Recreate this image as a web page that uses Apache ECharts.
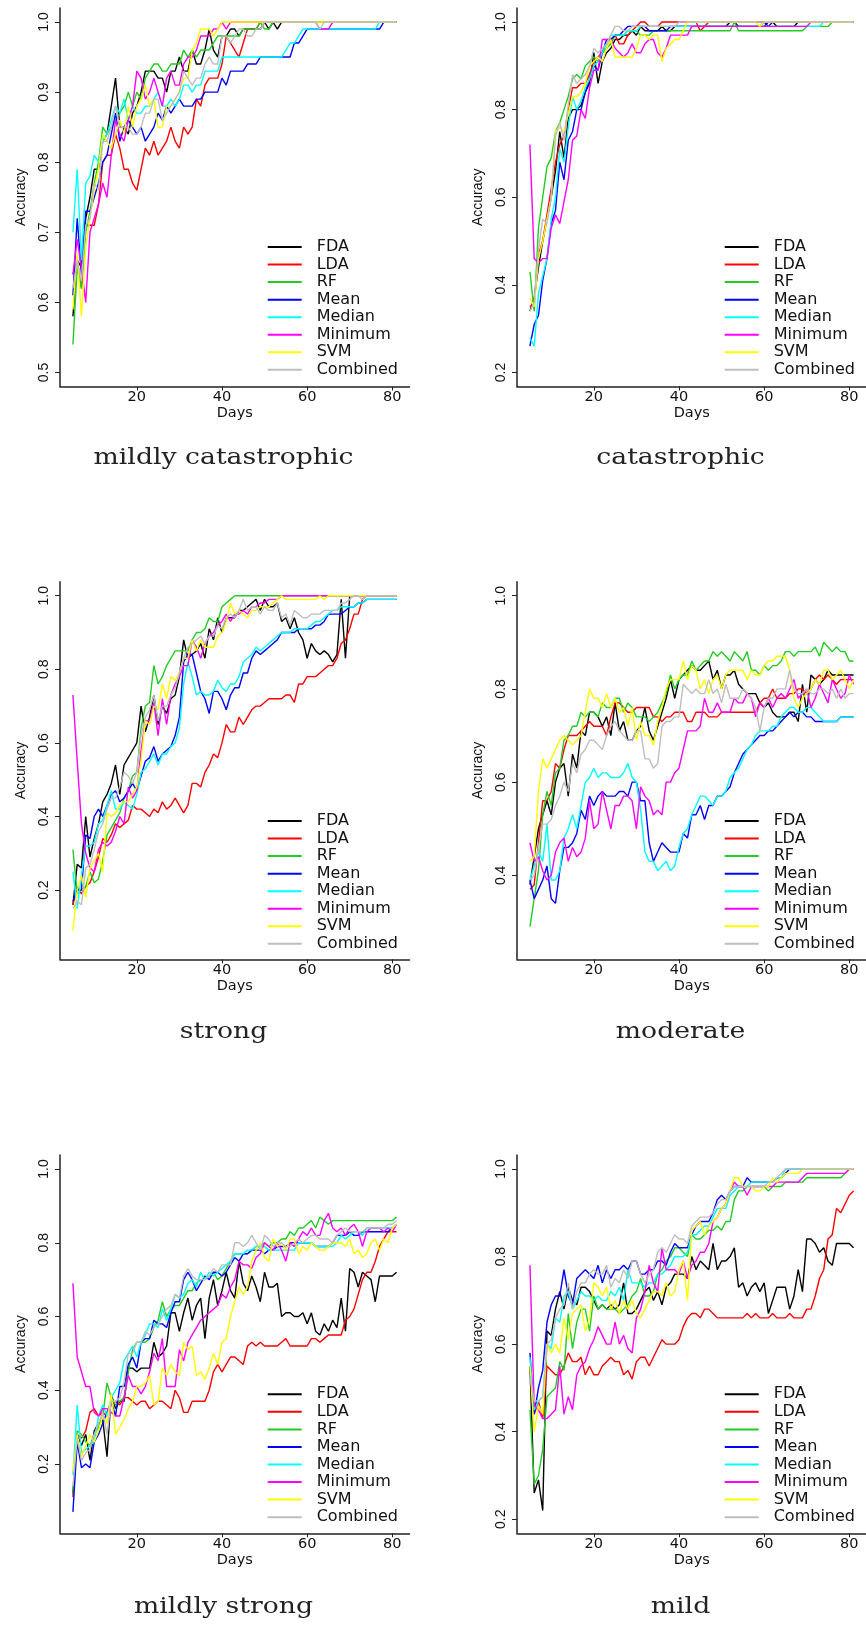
<!DOCTYPE html>
<html>
<head>
<meta charset="utf-8">
<script src="https://cdn.jsdelivr.net/npm/echarts@6/dist/echarts.min.js"></script>
<style>
  html, body { margin: 0; padding: 0; background: #ffffff; }
  #chart { width: 866px; height: 1625px; }
</style>
</head>
<body>
<div id="chart"></div>
<script>
// Days of observation (x values shared by every panel)
const days = [5,6,7,8,9,10,11,12,13,14,15,16,17,18,19,20,21,22,23,24,25,26,27,28,29,30,
  31,32,33,34,35,36,37,38,39,40,41,42,43,44,45,46,47,48,49,50,51,52,53,54,55,56,57,58,59,60,
  61,62,63,64,65,66,67,68,69,70,71,72,73,74,75,76,77,78,79,80,81];

const methods = ['FDA', 'LDA', 'RF', 'Mean', 'Median', 'Minimum', 'SVM', 'Combined'];
const panelTitles = ['mildly catastrophic', 'catastrophic', 'strong', 'moderate', 'mildly strong', 'mild'];

// Tick values
const xTicks = [20, 40, 60, 80];
const yTicksMildlyCatastrophic = [0.5, 0.6, 0.7, 0.8, 0.9, 1.0];
const yTicksCatastrophic = [0.2, 0.4, 0.6, 0.8, 1.0];
const yTicksStrong = [0.2, 0.4, 0.6, 0.8, 1.0];
const yTicksModerate = [0.4, 0.6, 0.8, 1.0];
const yTicksMildlyStrong = [0.2, 0.4, 0.6, 0.8, 1.0];
const yTicksMild = [0.2, 0.4, 0.6, 0.8, 1.0];

// ---- mildly catastrophic ----
const mcFDA = [0.58,0.66,0.65,0.72,0.75,0.79,0.79,0.83,0.84,0.88,
  0.92,0.85,0.85,0.84,0.87,0.88,0.90,0.93,0.93,0.93,
  0.92,0.92,0.90,0.93,0.93,0.95,0.93,0.93,0.96,0.94,
  0.94,0.96,0.99,0.96,0.95,0.98,0.98,0.99,0.99,0.98,
  0.99,0.99,0.99,0.99,0.99,1.00,0.99,1.00,0.99,1.00,
  1.00,1.00,1.00,1.00,1.00,1.00,1.00,1.00,1.00,1.00,
  1.00,1.00,1.00,1.00,1.00,1.00,1.00,1.00,1.00,1.00,
  1.00,1.00,1.00,1.00,1.00,1.00,1.00];
const mcLDA = [0.64,0.66,0.62,0.71,0.71,0.71,0.74,0.80,0.81,0.81,
  0.84,0.82,0.79,0.79,0.77,0.76,0.79,0.82,0.81,0.83,
  0.81,0.82,0.83,0.85,0.83,0.82,0.85,0.84,0.85,0.89,
  0.88,0.91,0.92,0.92,0.92,0.94,0.98,0.97,0.96,0.95,
  0.97,0.99,0.99,0.99,1.00,1.00,1.00,1.00,1.00,1.00,
  1.00,1.00,1.00,1.00,1.00,1.00,1.00,1.00,1.00,1.00,
  1.00,1.00,1.00,1.00,1.00,1.00,1.00,1.00,1.00,1.00,
  1.00,1.00,1.00,1.00,1.00,1.00,1.00];
const mcRF = [0.54,0.65,0.62,0.70,0.73,0.77,0.80,0.85,0.84,0.85,
  0.86,0.87,0.88,0.90,0.88,0.90,0.89,0.92,0.93,0.94,
  0.94,0.93,0.93,0.94,0.94,0.94,0.96,0.95,0.96,0.95,
  0.96,0.96,0.96,0.97,0.98,0.98,0.98,0.98,0.98,0.98,
  0.99,0.99,0.99,0.99,1.00,0.99,0.99,1.00,1.00,1.00,
  1.00,1.00,1.00,1.00,1.00,1.00,1.00,1.00,1.00,1.00,
  1.00,1.00,1.00,1.00,1.00,1.00,1.00,1.00,1.00,1.00,
  1.00,1.00,1.00,1.00,1.00,1.00,1.00];
const mcMean = [0.61,0.72,0.64,0.73,0.73,0.75,0.77,0.80,0.81,0.84,
  0.87,0.83,0.85,0.86,0.85,0.84,0.85,0.83,0.84,0.85,
  0.87,0.86,0.88,0.87,0.88,0.89,0.88,0.88,0.88,0.89,
  0.89,0.90,0.90,0.90,0.90,0.92,0.91,0.93,0.93,0.93,
  0.93,0.94,0.94,0.94,0.95,0.95,0.95,0.95,0.95,0.95,
  0.95,0.95,0.97,0.97,0.98,0.99,0.99,0.99,0.99,0.99,
  0.99,0.99,0.99,0.99,0.99,0.99,0.99,0.99,0.99,0.99,
  0.99,0.99,0.99,1.00,1.00,1.00,1.00];
const mcMedian = [0.70,0.79,0.66,0.77,0.78,0.81,0.80,0.83,0.84,0.86,
  0.88,0.87,0.89,0.86,0.88,0.87,0.87,0.88,0.88,0.89,
  0.90,0.88,0.88,0.89,0.88,0.89,0.91,0.91,0.90,0.91,
  0.91,0.93,0.93,0.93,0.93,0.95,0.95,0.95,0.95,0.95,
  0.95,0.95,0.95,0.95,0.95,0.95,0.95,0.95,0.95,0.95,
  0.96,0.97,0.97,0.98,0.99,0.99,0.99,0.99,0.99,0.99,
  0.99,0.99,0.99,0.99,0.99,0.99,0.99,0.99,0.99,0.99,
  0.99,0.99,1.00,1.00,1.00,1.00,1.00];
const mcMinimum = [0.64,0.69,0.65,0.60,0.70,0.72,0.74,0.77,0.75,0.81,
  0.86,0.84,0.83,0.86,0.88,0.93,0.92,0.89,0.90,0.92,
  0.90,0.88,0.92,0.93,0.91,0.91,0.94,0.95,0.95,0.96,
  0.98,0.98,0.98,0.99,0.99,1.00,0.99,1.00,1.00,1.00,
  1.00,1.00,1.00,1.00,1.00,1.00,1.00,1.00,1.00,1.00,
  1.00,1.00,1.00,1.00,1.00,1.00,1.00,1.00,0.99,0.99,
  0.99,1.00,1.00,1.00,1.00,1.00,1.00,1.00,1.00,1.00,
  1.00,1.00,1.00,1.00,1.00,1.00,1.00];
const mcSVM = [0.59,0.67,0.58,0.68,0.72,0.76,0.79,0.84,0.83,0.82,
  0.84,0.86,0.84,0.88,0.85,0.88,0.89,0.91,0.88,0.89,
  0.85,0.85,0.88,0.88,0.89,0.90,0.92,0.92,0.96,0.97,
  0.99,0.99,0.99,0.98,0.99,1.00,1.00,1.00,1.00,1.00,
  1.00,1.00,1.00,1.00,1.00,1.00,1.00,1.00,1.00,1.00,
  1.00,1.00,1.00,1.00,1.00,1.00,1.00,1.00,1.00,1.00,
  1.00,1.00,1.00,1.00,1.00,1.00,1.00,1.00,1.00,1.00,
  1.00,1.00,1.00,1.00,1.00,1.00,1.00];
const mcCombined = [0.62,0.66,0.63,0.71,0.72,0.77,0.76,0.83,0.83,0.85,
  0.88,0.85,0.85,0.85,0.84,0.84,0.85,0.87,0.87,0.89,
  0.89,0.86,0.87,0.88,0.89,0.90,0.93,0.92,0.91,0.92,
  0.92,0.94,0.95,0.94,0.94,0.98,0.98,0.97,0.98,0.99,
  0.99,0.98,0.98,0.99,0.99,1.00,1.00,1.00,1.00,1.00,
  1.00,1.00,1.00,1.00,1.00,1.00,1.00,1.00,0.99,1.00,
  1.00,1.00,1.00,1.00,1.00,1.00,1.00,1.00,1.00,1.00,
  1.00,1.00,1.00,1.00,1.00,1.00,1.00];

// ---- catastrophic ----
const catFDA = [0.34,0.37,0.44,0.50,0.55,0.60,0.66,0.75,0.69,0.78,
  0.80,0.80,0.81,0.84,0.86,0.93,0.86,0.91,0.93,0.94,
  0.96,0.96,0.97,0.97,0.98,0.97,0.99,0.98,0.98,0.98,
  0.98,0.99,0.98,0.98,0.99,0.99,0.99,0.99,0.99,0.99,
  0.99,0.99,0.99,0.99,0.99,0.99,0.99,1.00,1.00,0.99,
  0.99,0.99,0.99,0.99,0.99,0.99,1.00,1.00,0.99,0.99,
  0.99,0.99,0.99,1.00,1.00,1.00,1.00,1.00,1.00,1.00,
  1.00,1.00,1.00,1.00,1.00,1.00,1.00];
const catLDA = [0.35,0.36,0.47,0.50,0.56,0.62,0.68,0.72,0.74,0.80,
  0.85,0.85,0.86,0.86,0.88,0.91,0.92,0.93,0.94,0.96,
  0.97,0.95,0.95,0.97,0.98,0.99,1.00,1.00,0.99,0.99,
  0.99,1.00,1.00,1.00,1.00,1.00,1.00,1.00,1.00,1.00,
  0.98,0.99,1.00,1.00,1.00,1.00,1.00,1.00,1.00,1.00,
  1.00,1.00,1.00,1.00,1.00,1.00,1.00,1.00,1.00,1.00,
  1.00,1.00,1.00,1.00,1.00,1.00,1.00,1.00,1.00,1.00,
  1.00,1.00,1.00,1.00,1.00,1.00,1.00];
const catRF = [0.43,0.34,0.53,0.60,0.67,0.69,0.75,0.77,0.80,0.83,
  0.87,0.88,0.87,0.90,0.91,0.92,0.91,0.93,0.94,0.95,
  0.97,0.97,0.97,0.98,0.98,0.98,0.97,0.97,0.97,0.98,
  0.98,0.98,0.98,0.98,0.98,0.98,0.98,0.98,0.98,0.98,
  0.98,0.98,0.98,0.98,0.98,0.98,0.98,0.98,1.00,0.98,
  0.98,0.98,0.98,0.98,0.98,0.98,0.98,0.98,0.98,0.98,
  0.98,0.98,0.98,0.98,0.98,0.99,0.99,0.99,0.99,0.99,
  0.99,1.00,1.00,1.00,1.00,1.00,1.00];
const catMean = [0.26,0.31,0.33,0.41,0.46,0.54,0.57,0.68,0.64,0.73,
  0.75,0.80,0.80,0.84,0.87,0.90,0.89,0.93,0.96,0.96,
  0.97,0.97,0.98,0.99,0.99,0.99,0.99,0.99,0.98,0.98,
  0.98,0.98,0.98,0.99,0.99,0.99,0.99,0.99,0.99,0.99,
  0.99,0.99,0.99,0.99,0.99,0.99,0.99,0.99,0.99,0.99,
  0.99,0.99,0.99,0.99,0.99,1.00,0.99,1.00,1.00,1.00,
  1.00,1.00,1.00,1.00,1.00,1.00,1.00,1.00,1.00,1.00,
  1.00,1.00,1.00,1.00,1.00,1.00,1.00];
const catMedian = [0.28,0.26,0.38,0.42,0.46,0.55,0.60,0.71,0.68,0.76,
  0.83,0.80,0.82,0.85,0.87,0.90,0.91,0.93,0.95,0.97,
  0.97,0.97,0.97,0.98,0.98,0.98,0.99,0.99,0.99,0.99,
  0.99,0.99,0.99,0.99,0.99,0.99,0.99,0.99,0.99,0.99,
  0.99,0.99,0.99,0.99,0.99,0.99,0.99,0.99,0.99,0.99,
  0.99,0.99,0.99,0.99,0.99,0.99,0.99,0.99,0.99,0.99,
  0.99,0.99,0.99,0.99,0.99,0.99,0.99,0.99,0.99,1.00,
  1.00,1.00,1.00,1.00,1.00,1.00,1.00];
const catMinimum = [0.72,0.46,0.45,0.46,0.46,0.53,0.56,0.54,0.59,0.64,
  0.73,0.74,0.80,0.78,0.85,0.89,0.89,0.96,0.96,0.96,
  0.94,0.93,0.92,0.93,0.95,0.93,0.93,0.95,0.96,0.96,
  0.93,0.92,0.94,0.97,0.97,0.97,0.97,0.97,0.99,0.99,
  0.99,0.99,0.99,0.99,0.99,0.99,0.99,0.99,0.99,0.99,
  0.99,0.99,0.99,0.99,0.99,0.99,0.99,0.99,0.99,0.99,
  0.99,0.99,0.99,0.99,0.99,0.99,1.00,1.00,1.00,1.00,
  1.00,1.00,1.00,1.00,1.00,1.00,1.00];
const catSVM = [0.37,0.35,0.46,0.50,0.55,0.60,0.75,0.76,0.75,0.79,
  0.83,0.83,0.84,0.86,0.90,0.91,0.92,0.91,0.94,0.96,
  0.92,0.92,0.92,0.92,0.92,0.94,0.97,0.97,0.96,0.97,
  0.97,0.91,0.94,0.95,0.96,0.96,0.98,1.00,1.00,1.00,
  1.00,1.00,1.00,1.00,1.00,1.00,1.00,1.00,1.00,1.00,
  1.00,1.00,1.00,1.00,0.99,1.00,1.00,1.00,1.00,1.00,
  1.00,1.00,1.00,1.00,1.00,1.00,1.00,1.00,1.00,1.00,
  1.00,1.00,1.00,1.00,1.00,1.00,1.00];
const catCombined = [0.34,0.36,0.48,0.55,0.54,0.60,0.74,0.77,0.73,0.81,
  0.88,0.86,0.87,0.88,0.90,0.94,0.93,0.94,0.95,0.97,
  0.99,0.99,0.98,0.98,0.99,0.99,0.99,0.99,0.99,0.99,
  0.99,0.99,0.99,0.99,0.99,1.00,1.00,1.00,1.00,1.00,
  1.00,1.00,1.00,1.00,1.00,1.00,1.00,1.00,1.00,1.00,
  1.00,1.00,1.00,1.00,1.00,1.00,1.00,1.00,1.00,1.00,
  1.00,1.00,1.00,1.00,1.00,1.00,1.00,1.00,1.00,1.00,
  1.00,1.00,1.00,1.00,1.00,1.00,1.00];

// ---- strong ----
const stFDA = [0.16,0.27,0.26,0.40,0.29,0.34,0.38,0.44,0.46,0.49,
  0.54,0.46,0.54,0.56,0.58,0.60,0.70,0.63,0.67,0.73,
  0.65,0.70,0.68,0.72,0.73,0.78,0.88,0.83,0.84,0.85,
  0.87,0.83,0.91,0.88,0.94,0.90,0.94,0.94,0.94,0.96,
  0.96,0.97,0.98,0.99,0.96,0.99,0.97,0.97,0.98,0.93,
  0.94,0.91,0.94,0.90,0.88,0.83,0.87,0.85,0.84,0.85,
  0.84,0.82,0.84,0.99,0.83,1.00,1.00,1.00,1.00,1.00,
  1.00,1.00,1.00,1.00,1.00,1.00,1.00];
const stLDA = [0.16,0.21,0.19,0.21,0.22,0.25,0.29,0.34,0.33,0.35,
  0.38,0.37,0.38,0.39,0.43,0.42,0.42,0.41,0.40,0.42,
  0.41,0.44,0.42,0.43,0.45,0.43,0.41,0.43,0.49,0.49,
  0.48,0.52,0.54,0.57,0.56,0.60,0.65,0.63,0.63,0.67,
  0.65,0.67,0.69,0.70,0.70,0.71,0.72,0.72,0.72,0.72,
  0.73,0.73,0.71,0.76,0.76,0.78,0.78,0.78,0.79,0.80,
  0.81,0.81,0.83,0.87,0.88,0.91,0.95,0.95,0.99,1.00,
  1.00,1.00,1.00,1.00,1.00,1.00,1.00];
const stRF = [0.31,0.19,0.20,0.21,0.25,0.22,0.23,0.28,0.35,0.37,
  0.39,0.41,0.45,0.47,0.51,0.52,0.64,0.70,0.71,0.81,
  0.76,0.78,0.81,0.83,0.85,0.85,0.85,0.85,0.88,0.90,
  0.90,0.91,0.94,0.93,0.93,0.97,0.98,0.99,1.00,1.00,
  1.00,1.00,1.00,1.00,1.00,1.00,1.00,1.00,1.00,1.00,
  1.00,1.00,1.00,1.00,1.00,1.00,1.00,1.00,1.00,1.00,
  1.00,1.00,1.00,1.00,1.00,1.00,1.00,1.00,1.00,1.00,
  1.00,1.00,1.00,1.00,1.00,1.00,1.00];
const stMean = [0.17,0.20,0.20,0.35,0.34,0.40,0.42,0.40,0.43,0.46,
  0.47,0.44,0.45,0.47,0.49,0.47,0.51,0.55,0.56,0.59,
  0.55,0.57,0.58,0.59,0.62,0.67,0.82,0.84,0.84,0.79,
  0.74,0.72,0.68,0.74,0.74,0.72,0.69,0.73,0.75,0.75,
  0.79,0.79,0.83,0.85,0.84,0.85,0.86,0.87,0.88,0.90,
  0.90,0.90,0.90,0.91,0.91,0.91,0.91,0.92,0.92,0.93,
  0.95,0.95,0.95,0.95,0.96,0.97,0.97,0.98,0.98,0.99,
  0.99,0.99,0.99,0.99,0.99,0.99,0.99];
const stMedian = [0.25,0.15,0.24,0.32,0.32,0.33,0.38,0.39,0.43,0.47,
  0.42,0.42,0.44,0.43,0.42,0.46,0.52,0.53,0.55,0.57,
  0.54,0.57,0.57,0.59,0.60,0.64,0.76,0.82,0.78,0.73,
  0.74,0.73,0.73,0.74,0.77,0.75,0.74,0.76,0.76,0.78,
  0.82,0.83,0.84,0.86,0.85,0.86,0.87,0.88,0.89,0.90,
  0.90,0.90,0.91,0.91,0.91,0.91,0.92,0.93,0.93,0.94,
  0.95,0.96,0.96,0.97,0.97,0.97,0.97,0.98,0.98,0.99,
  0.99,0.99,0.99,0.99,0.99,0.99,0.99];
const stMinimum = [0.73,0.55,0.38,0.30,0.26,0.25,0.31,0.33,0.32,0.33,
  0.36,0.40,0.38,0.48,0.45,0.47,0.58,0.66,0.66,0.71,
  0.62,0.72,0.65,0.73,0.76,0.78,0.81,0.81,0.88,0.86,
  0.83,0.87,0.89,0.90,0.92,0.93,0.95,0.93,0.95,0.95,
  0.96,0.95,0.97,0.97,0.98,0.98,0.99,0.99,0.99,1.00,
  1.00,1.00,1.00,1.00,1.00,1.00,1.00,1.00,1.00,1.00,
  1.00,1.00,1.00,1.00,1.00,1.00,1.00,1.00,1.00,1.00,
  1.00,1.00,1.00,1.00,1.00,1.00,1.00];
const stSVM = [0.09,0.20,0.24,0.18,0.26,0.28,0.30,0.25,0.41,0.40,
  0.41,0.43,0.44,0.44,0.46,0.48,0.55,0.66,0.65,0.70,
  0.69,0.76,0.72,0.78,0.77,0.79,0.83,0.83,0.88,0.85,
  0.88,0.86,0.86,0.86,0.89,0.90,0.93,0.98,0.95,0.96,
  0.95,0.94,0.96,0.96,0.97,0.97,0.97,0.98,0.99,1.00,
  0.99,0.99,0.99,0.99,0.99,0.99,0.99,0.99,1.00,0.99,
  1.00,1.00,1.00,1.00,1.00,1.00,1.00,1.00,1.00,1.00,
  1.00,1.00,1.00,1.00,1.00,1.00,1.00];
const stCombined = [0.15,0.17,0.16,0.26,0.27,0.31,0.36,0.38,0.42,0.45,
  0.45,0.48,0.52,0.51,0.49,0.52,0.62,0.67,0.69,0.73,
  0.66,0.70,0.70,0.73,0.75,0.79,0.83,0.86,0.87,0.88,
  0.89,0.87,0.89,0.89,0.92,0.91,0.94,0.95,0.94,0.96,
  0.99,0.96,0.97,0.97,0.95,0.97,0.96,0.96,0.98,0.94,
  0.95,0.92,0.96,0.95,0.94,0.94,0.95,0.95,0.95,0.96,
  0.96,0.96,0.96,0.98,0.98,0.99,1.00,1.00,0.99,1.00,
  1.00,1.00,1.00,1.00,1.00,1.00,1.00];

// ---- moderate ----
const mdFDA = [0.38,0.44,0.50,0.53,0.56,0.53,0.60,0.63,0.64,0.57,
  0.66,0.63,0.71,0.70,0.75,0.75,0.74,0.72,0.74,0.70,
  0.77,0.71,0.73,0.69,0.69,0.71,0.72,0.76,0.71,0.69,
  0.72,0.75,0.78,0.82,0.78,0.82,0.83,0.84,0.85,0.84,
  0.84,0.85,0.86,0.82,0.84,0.80,0.83,0.83,0.84,0.81,
  0.80,0.79,0.79,0.79,0.77,0.76,0.77,0.75,0.74,0.74,
  0.74,0.75,0.75,0.73,0.81,0.75,0.83,0.82,0.81,0.82,
  0.84,0.83,0.83,0.83,0.83,0.83,0.83];
const mdLDA = [0.37,0.38,0.47,0.56,0.56,0.58,0.64,0.63,0.67,0.70,
  0.70,0.70,0.71,0.72,0.73,0.72,0.72,0.72,0.70,0.74,
  0.77,0.77,0.76,0.75,0.75,0.76,0.76,0.76,0.76,0.74,
  0.74,0.73,0.74,0.74,0.75,0.75,0.75,0.73,0.73,0.75,
  0.75,0.75,0.74,0.74,0.74,0.75,0.75,0.75,0.75,0.75,
  0.75,0.75,0.75,0.75,0.77,0.78,0.78,0.80,0.78,0.78,
  0.78,0.79,0.79,0.80,0.80,0.79,0.80,0.82,0.83,0.82,
  0.83,0.82,0.81,0.82,0.82,0.82,0.82];
const mdRF = [0.29,0.35,0.41,0.53,0.58,0.55,0.62,0.63,0.69,0.70,
  0.72,0.72,0.75,0.74,0.75,0.75,0.74,0.77,0.76,0.76,
  0.78,0.78,0.75,0.77,0.76,0.74,0.74,0.74,0.73,0.74,
  0.75,0.77,0.79,0.83,0.80,0.82,0.83,0.83,0.86,0.84,
  0.85,0.86,0.86,0.88,0.87,0.88,0.87,0.86,0.88,0.87,
  0.86,0.88,0.84,0.84,0.83,0.85,0.84,0.85,0.85,0.86,
  0.88,0.88,0.87,0.88,0.88,0.88,0.88,0.89,0.87,0.90,
  0.89,0.88,0.89,0.88,0.88,0.86,0.86];
const mdMean = [0.39,0.35,0.37,0.39,0.42,0.35,0.34,0.41,0.46,0.46,
  0.47,0.49,0.54,0.52,0.57,0.55,0.57,0.58,0.57,0.57,
  0.57,0.58,0.58,0.57,0.60,0.60,0.56,0.56,0.47,0.43,
  0.45,0.47,0.46,0.45,0.45,0.45,0.49,0.48,0.53,0.53,
  0.55,0.52,0.55,0.55,0.57,0.57,0.58,0.59,0.62,0.64,
  0.66,0.67,0.68,0.69,0.70,0.70,0.71,0.71,0.72,0.73,
  0.74,0.75,0.74,0.75,0.75,0.74,0.74,0.73,0.73,0.73,
  0.73,0.73,0.73,0.74,0.74,0.74,0.74];
const mdMedian = [0.39,0.42,0.45,0.43,0.51,0.39,0.39,0.41,0.48,0.50,
  0.53,0.50,0.55,0.60,0.61,0.63,0.61,0.62,0.62,0.61,
  0.61,0.61,0.62,0.64,0.61,0.60,0.54,0.45,0.43,0.43,
  0.41,0.42,0.43,0.41,0.42,0.46,0.49,0.50,0.53,0.55,
  0.57,0.57,0.56,0.55,0.57,0.57,0.58,0.61,0.62,0.63,
  0.65,0.67,0.68,0.70,0.71,0.71,0.71,0.72,0.72,0.74,
  0.75,0.76,0.76,0.75,0.75,0.76,0.76,0.75,0.74,0.73,
  0.73,0.73,0.73,0.74,0.74,0.74,0.74];
const mdMinimum = [0.47,0.43,0.44,0.41,0.39,0.40,0.45,0.47,0.48,0.43,
  0.46,0.44,0.45,0.48,0.56,0.50,0.51,0.58,0.54,0.50,
  0.55,0.55,0.57,0.57,0.56,0.50,0.59,0.57,0.56,0.53,
  0.54,0.53,0.60,0.60,0.62,0.63,0.67,0.71,0.71,0.71,
  0.72,0.78,0.75,0.75,0.77,0.75,0.75,0.75,0.78,0.77,
  0.77,0.79,0.78,0.74,0.77,0.76,0.78,0.76,0.78,0.79,
  0.78,0.80,0.82,0.78,0.79,0.80,0.76,0.78,0.81,0.79,
  0.77,0.82,0.80,0.78,0.79,0.83,0.81];
const mdSVM = [0.43,0.44,0.58,0.65,0.63,0.65,0.67,0.69,0.70,0.69,
  0.68,0.69,0.70,0.75,0.80,0.78,0.78,0.76,0.79,0.76,
  0.78,0.75,0.76,0.72,0.76,0.69,0.73,0.70,0.70,0.68,
  0.73,0.76,0.80,0.82,0.82,0.82,0.86,0.82,0.85,0.84,
  0.80,0.82,0.79,0.82,0.83,0.80,0.83,0.84,0.84,0.84,
  0.84,0.82,0.84,0.83,0.83,0.85,0.86,0.86,0.87,0.87,
  0.87,0.84,0.78,0.76,0.78,0.79,0.80,0.82,0.81,0.84,
  0.84,0.82,0.83,0.84,0.82,0.80,0.82];
const mdCombined = [0.39,0.40,0.46,0.51,0.51,0.52,0.55,0.57,0.60,0.58,
  0.64,0.62,0.66,0.67,0.69,0.69,0.68,0.67,0.70,0.72,
  0.73,0.71,0.70,0.69,0.69,0.71,0.71,0.65,0.65,0.63,
  0.64,0.72,0.73,0.73,0.74,0.74,0.81,0.80,0.79,0.80,
  0.79,0.79,0.82,0.79,0.80,0.77,0.81,0.78,0.78,0.78,
  0.80,0.79,0.78,0.76,0.71,0.76,0.78,0.78,0.80,0.80,
  0.80,0.84,0.80,0.79,0.79,0.80,0.79,0.79,0.80,0.80,
  0.79,0.80,0.78,0.80,0.78,0.79,0.79];

// ---- mildly strong ----
const msFDA = [0.12,0.28,0.25,0.28,0.21,0.29,0.31,0.32,0.22,0.39,
  0.35,0.37,0.37,0.46,0.46,0.45,0.46,0.46,0.46,0.53,
  0.49,0.50,0.52,0.61,0.61,0.56,0.61,0.65,0.59,0.63,
  0.65,0.54,0.65,0.70,0.63,0.67,0.72,0.67,0.65,0.75,
  0.69,0.67,0.71,0.68,0.64,0.72,0.68,0.68,0.69,0.60,
  0.61,0.61,0.60,0.60,0.61,0.58,0.61,0.56,0.55,0.58,
  0.56,0.59,0.57,0.65,0.56,0.73,0.72,0.68,0.72,0.71,
  0.70,0.64,0.71,0.71,0.71,0.71,0.72];
const msLDA = [0.11,0.28,0.27,0.29,0.34,0.35,0.33,0.34,0.33,0.36,
  0.37,0.36,0.38,0.38,0.37,0.36,0.37,0.37,0.35,0.36,
  0.37,0.37,0.36,0.35,0.40,0.38,0.34,0.34,0.37,0.37,
  0.37,0.37,0.40,0.45,0.47,0.45,0.47,0.49,0.49,0.48,
  0.47,0.52,0.53,0.52,0.53,0.52,0.52,0.52,0.52,0.53,
  0.54,0.52,0.52,0.52,0.52,0.52,0.54,0.54,0.53,0.54,
  0.55,0.55,0.55,0.55,0.59,0.60,0.62,0.66,0.70,0.72,
  0.72,0.75,0.79,0.81,0.83,0.83,0.83];
const msRF = [0.12,0.29,0.28,0.26,0.25,0.28,0.30,0.33,0.42,0.38,
  0.36,0.37,0.38,0.45,0.51,0.53,0.53,0.53,0.54,0.57,
  0.59,0.64,0.60,0.62,0.63,0.63,0.65,0.67,0.67,0.69,
  0.70,0.70,0.71,0.72,0.70,0.71,0.73,0.75,0.77,0.77,
  0.77,0.77,0.78,0.79,0.79,0.80,0.79,0.80,0.80,0.81,
  0.81,0.83,0.82,0.84,0.84,0.85,0.86,0.84,0.87,0.86,
  0.85,0.86,0.86,0.86,0.86,0.86,0.86,0.86,0.86,0.86,
  0.86,0.86,0.86,0.86,0.86,0.86,0.87];
const msMean = [0.07,0.26,0.19,0.20,0.19,0.26,0.28,0.31,0.34,0.37,
  0.33,0.41,0.41,0.47,0.49,0.46,0.53,0.54,0.54,0.59,
  0.58,0.58,0.57,0.61,0.64,0.64,0.70,0.72,0.70,0.67,
  0.69,0.71,0.70,0.72,0.72,0.71,0.72,0.74,0.76,0.75,
  0.77,0.77,0.78,0.78,0.78,0.77,0.78,0.78,0.79,0.79,
  0.79,0.80,0.80,0.80,0.80,0.80,0.80,0.79,0.79,0.79,
  0.79,0.80,0.82,0.82,0.82,0.83,0.82,0.82,0.83,0.83,
  0.83,0.83,0.83,0.83,0.83,0.84,0.85];
const msMedian = [0.17,0.36,0.23,0.24,0.25,0.26,0.33,0.36,0.33,0.38,
  0.40,0.42,0.48,0.50,0.52,0.49,0.53,0.55,0.58,0.58,
  0.57,0.62,0.59,0.62,0.66,0.65,0.66,0.69,0.70,0.68,
  0.72,0.70,0.72,0.71,0.72,0.73,0.74,0.75,0.77,0.77,
  0.77,0.78,0.78,0.79,0.79,0.79,0.78,0.78,0.78,0.78,
  0.78,0.78,0.78,0.80,0.80,0.80,0.80,0.79,0.79,0.79,
  0.79,0.79,0.80,0.82,0.81,0.82,0.83,0.83,0.82,0.84,
  0.84,0.84,0.84,0.84,0.84,0.84,0.85];
const msMinimum = [0.69,0.49,0.45,0.41,0.41,0.34,0.33,0.35,0.35,0.34,
  0.33,0.33,0.38,0.44,0.41,0.41,0.39,0.41,0.45,0.50,
  0.48,0.54,0.41,0.41,0.41,0.51,0.48,0.53,0.55,0.57,
  0.59,0.60,0.61,0.62,0.63,0.66,0.65,0.68,0.70,0.75,
  0.74,0.74,0.73,0.76,0.77,0.80,0.79,0.78,0.80,0.78,
  0.75,0.80,0.79,0.81,0.83,0.82,0.84,0.82,0.82,0.86,
  0.88,0.84,0.83,0.84,0.82,0.84,0.85,0.83,0.79,0.83,
  0.84,0.84,0.84,0.83,0.84,0.83,0.85];
const msSVM = [0.18,0.28,0.22,0.25,0.28,0.26,0.29,0.33,0.31,0.39,
  0.28,0.30,0.32,0.35,0.37,0.41,0.41,0.42,0.44,0.36,
  0.37,0.46,0.44,0.47,0.45,0.44,0.53,0.51,0.52,0.44,
  0.45,0.43,0.46,0.50,0.47,0.53,0.54,0.60,0.64,0.68,
  0.66,0.68,0.75,0.78,0.80,0.76,0.75,0.81,0.79,0.80,
  0.78,0.81,0.81,0.77,0.79,0.78,0.80,0.79,0.78,0.78,
  0.79,0.80,0.80,0.80,0.79,0.81,0.77,0.78,0.76,0.77,
  0.80,0.81,0.78,0.81,0.80,0.84,0.85];
const msCombined = [0.14,0.27,0.21,0.23,0.24,0.28,0.31,0.34,0.28,0.37,
  0.37,0.38,0.42,0.50,0.50,0.53,0.53,0.56,0.55,0.57,
  0.58,0.60,0.62,0.63,0.66,0.65,0.71,0.73,0.71,0.70,
  0.70,0.70,0.71,0.73,0.72,0.74,0.74,0.74,0.80,0.80,
  0.79,0.80,0.82,0.80,0.78,0.82,0.81,0.79,0.80,0.80,
  0.79,0.79,0.80,0.81,0.80,0.81,0.82,0.82,0.81,0.81,
  0.81,0.80,0.82,0.83,0.84,0.83,0.83,0.83,0.83,0.84,
  0.84,0.84,0.84,0.84,0.85,0.85,0.86];

// ---- mild ----
const mlFDA = [0.55,0.26,0.29,0.22,0.63,0.62,0.68,0.72,0.68,0.73,
  0.70,0.69,0.73,0.73,0.72,0.70,0.68,0.69,0.68,0.69,
  0.68,0.69,0.74,0.67,0.67,0.68,0.70,0.72,0.73,0.70,
  0.72,0.69,0.73,0.74,0.76,0.76,0.76,0.75,0.80,0.77,
  0.79,0.78,0.77,0.83,0.77,0.79,0.79,0.80,0.82,0.73,
  0.74,0.71,0.73,0.74,0.72,0.74,0.67,0.70,0.73,0.73,
  0.73,0.68,0.71,0.77,0.72,0.84,0.84,0.83,0.81,0.82,
  0.79,0.78,0.83,0.83,0.83,0.83,0.82];
const mlLDA = [0.54,0.44,0.47,0.43,0.55,0.54,0.53,0.53,0.55,0.58,
  0.56,0.56,0.57,0.53,0.55,0.53,0.53,0.55,0.56,0.57,
  0.56,0.56,0.53,0.54,0.52,0.56,0.57,0.57,0.55,0.57,
  0.59,0.61,0.60,0.60,0.60,0.61,0.64,0.66,0.67,0.67,
  0.66,0.68,0.68,0.67,0.66,0.66,0.66,0.66,0.66,0.66,
  0.66,0.67,0.66,0.67,0.66,0.66,0.66,0.67,0.66,0.66,
  0.66,0.67,0.66,0.66,0.66,0.68,0.68,0.71,0.75,0.77,
  0.84,0.85,0.91,0.90,0.92,0.94,0.95];
const mlRF = [0.45,0.28,0.30,0.36,0.48,0.49,0.50,0.56,0.54,0.67,
  0.59,0.65,0.68,0.68,0.63,0.71,0.68,0.69,0.68,0.68,
  0.68,0.67,0.68,0.69,0.71,0.72,0.75,0.71,0.71,0.72,
  0.76,0.77,0.79,0.80,0.82,0.82,0.81,0.80,0.85,0.84,
  0.84,0.85,0.86,0.86,0.87,0.86,0.88,0.88,0.93,0.95,
  0.95,0.96,0.96,0.96,0.96,0.96,0.95,0.96,0.96,0.96,
  0.97,0.97,0.97,0.97,0.97,0.98,0.98,0.98,0.98,0.98,
  0.98,0.98,0.98,0.98,0.99,1.00,1.00];
const mlMean = [0.58,0.44,0.50,0.54,0.65,0.69,0.71,0.71,0.77,0.71,
  0.69,0.75,0.76,0.77,0.76,0.75,0.78,0.74,0.77,0.75,
  0.77,0.77,0.78,0.77,0.79,0.79,0.76,0.76,0.77,0.77,
  0.79,0.79,0.78,0.81,0.83,0.82,0.82,0.82,0.85,0.87,
  0.88,0.88,0.88,0.90,0.93,0.94,0.93,0.95,0.96,0.96,
  0.96,0.98,0.97,0.97,0.97,0.97,0.97,0.97,0.98,0.98,
  0.99,1.00,1.00,1.00,1.00,1.00,1.00,1.00,1.00,1.00,
  1.00,1.00,1.00,1.00,1.00,1.00,1.00];
const mlMedian = [0.57,0.45,0.47,0.48,0.60,0.59,0.66,0.65,0.71,0.72,
  0.68,0.70,0.72,0.71,0.71,0.70,0.71,0.70,0.70,0.72,
  0.71,0.73,0.70,0.77,0.74,0.74,0.74,0.73,0.74,0.74,
  0.76,0.76,0.77,0.78,0.80,0.80,0.80,0.81,0.85,0.85,
  0.86,0.87,0.87,0.89,0.91,0.91,0.91,0.94,0.95,0.96,
  0.96,0.96,0.97,0.97,0.97,0.97,0.97,0.97,0.98,0.98,
  1.00,1.00,1.00,1.00,1.00,1.00,1.00,1.00,1.00,1.00,
  1.00,1.00,1.00,1.00,1.00,1.00,1.00];
const mlMinimum = [0.78,0.46,0.45,0.43,0.43,0.44,0.45,0.55,0.44,0.48,
  0.45,0.53,0.55,0.56,0.59,0.61,0.64,0.62,0.60,0.60,
  0.65,0.60,0.62,0.59,0.58,0.66,0.68,0.72,0.78,0.74,
  0.72,0.82,0.77,0.77,0.77,0.76,0.79,0.75,0.78,0.79,
  0.81,0.81,0.83,0.88,0.89,0.91,0.92,0.95,0.97,0.96,
  0.96,0.94,0.96,0.96,0.96,0.96,0.96,0.96,0.97,0.97,
  0.97,0.97,0.97,0.97,0.98,0.99,0.99,0.99,0.99,0.99,
  0.99,0.99,0.99,0.99,0.99,1.00,1.00];
const mlSVM = [0.55,0.40,0.46,0.44,0.60,0.58,0.60,0.58,0.66,0.61,
  0.67,0.68,0.69,0.63,0.66,0.74,0.73,0.71,0.73,0.68,
  0.70,0.67,0.70,0.68,0.70,0.67,0.66,0.68,0.70,0.72,
  0.72,0.71,0.74,0.71,0.72,0.77,0.79,0.70,0.86,0.87,
  0.88,0.85,0.87,0.88,0.89,0.91,0.92,0.95,0.98,0.98,
  0.96,0.96,0.96,0.95,0.95,0.96,0.96,0.98,0.97,0.98,
  0.99,0.99,0.99,0.99,1.00,1.00,1.00,1.00,1.00,1.00,
  1.00,1.00,1.00,1.00,1.00,1.00,1.00];
const mlCombined = [0.53,0.47,0.47,0.48,0.60,0.61,0.66,0.68,0.69,0.74,
  0.68,0.72,0.74,0.74,0.76,0.77,0.76,0.76,0.78,0.73,
  0.75,0.74,0.77,0.75,0.79,0.79,0.76,0.74,0.76,0.77,
  0.81,0.82,0.81,0.83,0.85,0.84,0.84,0.83,0.87,0.88,
  0.89,0.89,0.89,0.90,0.92,0.93,0.93,0.95,0.96,0.96,
  0.96,0.96,0.96,0.96,0.96,0.96,0.97,0.97,0.98,0.99,
  1.00,1.00,1.00,1.00,1.00,1.00,1.00,1.00,1.00,1.00,
  1.00,1.00,1.00,1.00,1.00,1.00,1.00];

// ---------------------------------------------------------------
// Layout & styling
const methodColors = ['#000000', '#ff0000', '#22cc22', '#0000ff', '#00ffff', '#ff00ff', '#ffff00', '#bebebe'];

const panelSeries = [
  [mcFDA, mcLDA, mcRF, mcMean, mcMedian, mcMinimum, mcSVM, mcCombined],
  [catFDA, catLDA, catRF, catMean, catMedian, catMinimum, catSVM, catCombined],
  [stFDA, stLDA, stRF, stMean, stMedian, stMinimum, stSVM, stCombined],
  [mdFDA, mdLDA, mdRF, mdMean, mdMedian, mdMinimum, mdSVM, mdCombined],
  [msFDA, msLDA, msRF, msMean, msMedian, msMinimum, msSVM, msCombined],
  [mlFDA, mlLDA, mlRF, mlMean, mlMedian, mlMinimum, mlSVM, mlCombined]
];
const panelYTicks = [yTicksMildlyCatastrophic, yTicksCatastrophic, yTicksStrong,
  yTicksModerate, yTicksMildlyStrong, yTicksMild];

// plot boxes (px) and value ranges of the y axes
const panelBoxes = [
  { left: 60,  top: 8,     height: 378.5, yMin: 0.48,  yMax: 1.02 },
  { left: 517, top: 8,     height: 378.5, yMin: 0.168, yMax: 1.032 },
  { left: 60,  top: 581.7, height: 377.6, yMin: 0.012, yMax: 1.038 },
  { left: 517, top: 581.7, height: 377.6, yMin: 0.22,  yMax: 1.03 },
  { left: 60,  top: 1155,  height: 378.3, yMin: 0.012, yMax: 1.038 },
  { left: 517, top: 1155,  height: 378.3, yMin: 0.168, yMax: 1.032 }
];
const plotWidth = 349.5;
const legendTops = [239, 239, 813, 813, 1386.3, 1386.3];
const titleCenters = [[223.5, 458], [680.5, 458], [223.5, 1032], [680.5, 1032], [223.5, 1607], [680.5, 1607]];

const axisColor = '#222222';
const textColor = '#111111';

const grids = [], xAxes = [], yAxes = [], series = [], legends = [], graphics = [];

panelBoxes.forEach(function (box, p) {
  grids.push({
    left: box.left, top: box.top, width: plotWidth, height: box.height,
    containLabel: false, outerBoundsMode: 'none'
  });

  xAxes.push({
    gridIndex: p, type: 'value', min: 1.96, max: 84.04,
    name: 'Days', nameLocation: 'middle', nameGap: 19,
    nameTextStyle: { fontFamily: 'DejaVu Sans', fontSize: 14.5, color: textColor },
    axisLine: { show: true, onZero: false, lineStyle: { color: axisColor, width: 1.5 } },
    axisTick: { show: true, customValues: xTicks, length: 4, lineStyle: { color: axisColor, width: 1 } },
    axisLabel: { show: true, customValues: xTicks, margin: 3, fontFamily: 'DejaVu Sans', fontSize: 14.5, color: textColor },
    splitLine: { show: false }
  });

  yAxes.push({
    gridIndex: p, type: 'value', min: box.yMin, max: box.yMax,
    name: 'Accuracy', nameLocation: 'middle', nameRotate: 90, nameGap: 32,
    nameTextStyle: { fontFamily: 'Liberation Sans', fontSize: 14, color: textColor },
    axisLine: { show: true, onZero: false, lineStyle: { color: axisColor, width: 1.5 } },
    axisTick: { show: true, customValues: panelYTicks[p], length: 5, lineStyle: { color: axisColor, width: 1 } },
    axisLabel: {
      show: true, customValues: panelYTicks[p], rotate: 90, margin: 9,
      fontFamily: 'Liberation Sans', fontSize: 14, color: textColor,
      formatter: function (v) { return v.toFixed(1); }
    },
    splitLine: { show: false }
  });

  panelSeries[p].forEach(function (values, m) {
    series.push({
      type: 'line', name: methods[m], xAxisIndex: p, yAxisIndex: p,
      data: days.map(function (d, i) { return [d, values[i]]; }),
      symbol: 'none', showSymbol: false, silent: true, animation: false,
      color: methodColors[m],
      lineStyle: { width: 1.4, color: methodColors[m] },
      itemStyle: { color: methodColors[m] }
    });
  });

  legends.push({
    data: methods, orient: 'vertical', left: box.left + 206.7, top: legendTops[p],
    padding: 0, itemWidth: 34, itemHeight: 14, itemGap: 1.55, selectedMode: false,
    lineStyle: { width: 2 }, itemStyle: { opacity: 0, borderWidth: 0 },
    textStyle: { fontFamily: 'DejaVu Sans', fontSize: 16, color: textColor, lineHeight: 14, padding: [0, 0, 0, 10] }
  });

  graphics.push({
    type: 'text', x: titleCenters[p][0], y: titleCenters[p][1], scaleX: 1.16, silent: true,
    style: {
      text: panelTitles[p], fontFamily: 'DejaVu Serif', fontSize: 23, fill: '#222222',
      align: 'center', verticalAlign: 'middle'
    }
  });
});

const chart = echarts.init(document.getElementById('chart'), null, { renderer: 'canvas' });
chart.setOption({
  backgroundColor: '#ffffff',
  animation: false,
  grid: grids,
  xAxis: xAxes,
  yAxis: yAxes,
  legend: legends,
  series: series,
  graphic: graphics
});
</script>
</body>
</html>
